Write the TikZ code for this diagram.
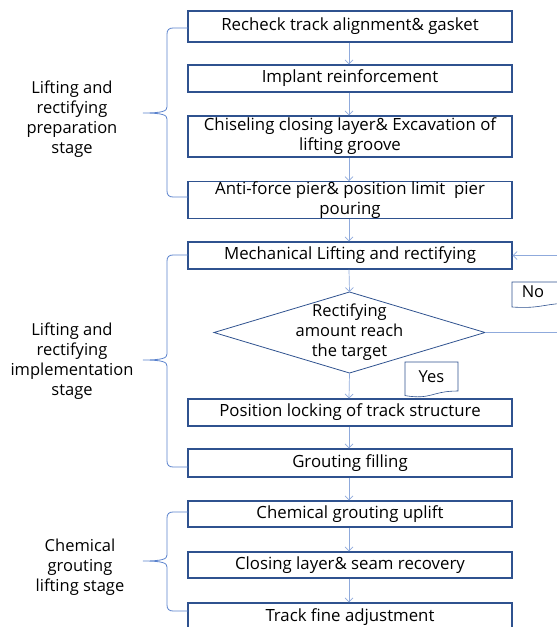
\documentclass[tikz,border=0pt]{standalone}
\usepackage{fontspec}
\setmainfont{Open Sans}
\usetikzlibrary{arrows.meta,calc}
\definecolor{boxc}{RGB}{47,82,143}
\definecolor{arrc}{RGB}{143,170,220}
\definecolor{brc}{RGB}{90,130,205}
\begin{document}
\begin{tikzpicture}[x=1pt,y=-1pt,
  stepbox/.style={draw=boxc,line width=1.1pt,minimum width=324pt,inner sep=0pt,align=center,font=\fontsize{16.8}{20}\selectfont},
  flow/.style={draw=arrc,line width=0.7pt,-{Straight Barb[length=4pt,width=8pt]}},
  brace/.style={draw=brc,line width=0.8pt},
  stagelabel/.style={align=center,font=\fontsize{16.5}{20}\selectfont},
  tag/.style={font=\fontsize{16.5}{18}\selectfont}]
\path[use as bounding box] (0,0) rectangle (557,627);
\clip (0,0) rectangle (557,627);
\node[stepbox,minimum height=31pt] (b1) at (350,26.5) {Recheck track alignment\& gasket};
\node[stepbox,minimum height=27pt] (b2) at (350,78.5) {Implant reinforcement};
\node[stepbox,minimum height=41pt] (b3) at (350,136.5) {Chiseling closing layer\& Excavation of\\lifting groove};
\node[stepbox,minimum height=36pt] (b4) at (350,200) {Anti-force pier\& position limit\ \ pier\\pouring};
\node[stepbox,minimum height=27pt] (b5) at (350,255.5) {Mechanical Lifting and rectifying};
\node[stagelabel] (dia) at (349.5,332.5) {Rectifying\\amount reach\\the target};
\coordinate (diaT) at (349.5,292);
\coordinate (diaB) at (349.5,373);
\coordinate (diaL) at (214,332.5);
\coordinate (diaR) at (485,332.5);
\draw[draw=boxc,line width=0.8pt] (diaT) -- (diaR) -- (diaB) -- (diaL) -- cycle;
\node[stepbox,minimum height=27pt] (b6) at (350,412.5) {Position locking of track structure};
\node[stepbox,minimum height=28pt] (b7) at (350,463) {Grouting filling};
\node[stepbox,minimum height=26pt] (b8) at (350,514) {Chemical grouting uplift};
\node[stepbox,minimum height=26pt] (b9) at (350,565) {Closing layer\& seam recovery};
\node[stepbox,minimum height=28pt] (b10) at (350,617) {Track fine adjustment};
% arrows
\draw[flow] (b1.south -| 349,0) -- (b2.north -| 349,0);
\draw[flow] (b2.south -| 349,0) -- (b3.north -| 349,0);
\draw[flow] (b3.south -| 349,0) -- (b4.north -| 349,0);
\draw[flow] (b4.south -| 349,0) -- (b5.north -| 349,0);
\draw[flow] (b5.south -| 349,0) -- (diaT);
\draw[flow] (diaB) -- (b6.north -| 349,0);
\draw[flow] (b6.south -| 349,0) -- (b7.north -| 349,0);
\draw[flow] (b7.south -| 349,0) -- (b8.north -| 349,0);
\draw[flow] (b8.south -| 349,0) -- (b9.north -| 349,0);
\draw[flow] (b9.south -| 349,0) -- (b10.north -| 349,0);
\coordinate (loopA) at (575,332.5);
\coordinate (loopB) at (575,255.5);
\draw[flow] (diaR) -- (loopA) -- (loopB) -- (b5.east);
% tags
\draw[draw=boxc,line width=0.6pt,fill=white] (512,282) -- (575,282) -- (575,303) .. controls (543,303) and (543,309) .. (512,307) -- cycle;
\node[tag] (no) at (533,292) {No};
\draw[draw=boxc,line width=0.6pt,fill=white] (405,362) -- (458,362) -- (458,391) .. controls (431.5,391) and (431.5,400) .. (405,395.6) -- cycle;
\node[tag] (yes) at (431.5,377) {Yes};
% braces
\draw[brace] (188,28) -- (173,28) .. controls (169,28) and (167,30) .. (167,34) -- (167,107) .. controls (167,111) and (163,113) .. (143,113)
  .. controls (163,113) and (167,115) .. (167,119) -- (167,191) .. controls (167,195) and (169,197) .. (173,197) -- (188,197);
\draw[brace] (188,255) -- (173,255) .. controls (169,255) and (167,257) .. (167,261) -- (167,354) .. controls (167,358) and (163,360) .. (143,360)
  .. controls (163,360) and (167,362) .. (167,366) -- (167,461) .. controls (167,465) and (169,467) .. (173,467) -- (188,467);
\draw[brace] (188,512) -- (173,512) .. controls (169,512) and (167,514) .. (167,518) -- (167,555) .. controls (167,559) and (163,561) .. (143,561)
  .. controls (163,561) and (167,563) .. (167,567) -- (167,605) .. controls (167,609) and (169,611) .. (173,611) -- (188,611);
% stage labels
\node[stagelabel] (s1) at (72,119.5) {Lifting and\\rectifying\\preparation\\stage};
\node[stagelabel] (s2) at (72,361) {Lifting and\\rectifying\\implementation\\stage};
\node[stagelabel] (s3) at (80,567) {Chemical\\grouting\\lifting stage};
\end{tikzpicture}
\end{document}
